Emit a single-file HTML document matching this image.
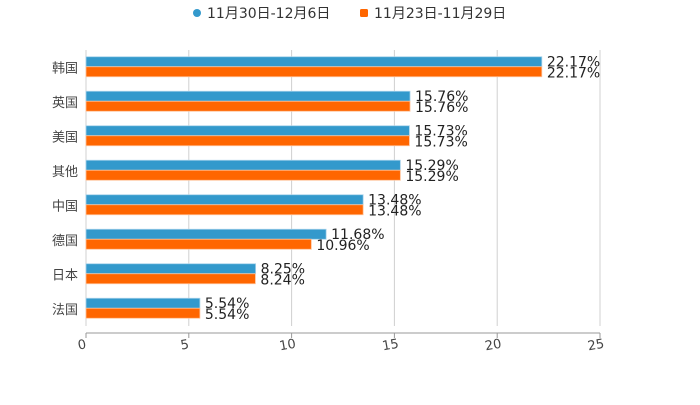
<!DOCTYPE html>
<html><head><meta charset="utf-8"><style>
body{margin:0;background:#fff}
text{font-family:"DejaVu Sans","Noto Sans CJK SC",sans-serif}
</style></head><body>
<svg id="c" width="700" height="400">
<g id="legend">
<g><circle cx="197" cy="13" r="4" fill="#3399cc"/><text x="207" y="18" font-size="14" fill="#333">11月30日-12月6日</text></g>
<g><rect x="360" y="9" width="8" height="8" rx="1.5" fill="#ff6600"/><text x="374" y="18" font-size="14" fill="#333">11月23日-11月29日</text></g>
</g>
<g id="grid"></g>
<g id="bars"></g>
<g id="axes"></g>
</svg>
<script>
const categories=["韩国","英国","美国","其他","中国","德国","日本","法国"];
const seriesA=[22.17,15.76,15.73,15.29,13.48,11.68,8.25,5.54];
const seriesB=[22.17,15.76,15.73,15.29,13.48,10.96,8.24,5.54];
const ticks=[0,5,10,15,20,25];
const NS="http://www.w3.org/2000/svg";
const x0=86,x1=600,yTop=50,yBot=326,xMax=25;
const band=(yBot-yTop)/categories.length;
const X=v=>x0+v/xMax*(x1-x0);
const Yc=i=>yTop+band*(i+0.5);
function mk(t,a,p){const e=document.createElementNS(NS,t);for(const k in a)e.setAttribute(k,a[k]);p.appendChild(e);return e;}
const g=document.getElementById('grid'),b=document.getElementById('bars'),ax=document.getElementById('axes');
ticks.forEach(t=>{
 const l=mk('line',{x1:X(t),x2:X(t),y1:yTop,y2:yBot,stroke:'#d0d0d0','stroke-width':1},g);
 
 
 const tk=mk('line',{x1:X(t),x2:X(t),y1:333,y2:338,stroke:'#999'},ax);
 
 
 const tx=mk('text',{x:X(t)-4,y:349,'font-size':13,fill:'#444','text-anchor':'middle',transform:`rotate(-10 ${X(t)-4} 345)`},ax);
 tx.textContent=t;
 
 
});
const al=mk('line',{x1:x0,x2:x1,y1:333,y2:333,stroke:'#999'},ax);


categories.forEach((c,i)=>{
 const cy=Yc(i);
 const lb=mk('text',{x:78,y:cy+5,'font-size':13,fill:'#444','text-anchor':'end'},ax);
 lb.textContent=c;
 
 
 const ra=mk('rect',{x:x0,y:cy-10.5,width:X(seriesA[i])-x0,height:10,fill:'#3399cc',stroke:'#a8d2ea','stroke-width':0.8},b);
 
 
 const rb=mk('rect',{x:x0,y:cy-0.5,width:X(seriesB[i])-x0,height:10,fill:'#ff6600',stroke:'#ffc299','stroke-width':0.8},b);
 
 
 const ta=mk('text',{x:X(seriesA[i])+5,y:cy-1,'font-size':14,fill:'#222'},b);
 ta.textContent=seriesA[i].toFixed(2)+'%';
 
 
 const tb=mk('text',{x:X(seriesB[i])+5,y:cy+10,'font-size':14,fill:'#222'},b);
 tb.textContent=seriesB[i].toFixed(2)+'%';
 
 
});
</script>
</body></html>
